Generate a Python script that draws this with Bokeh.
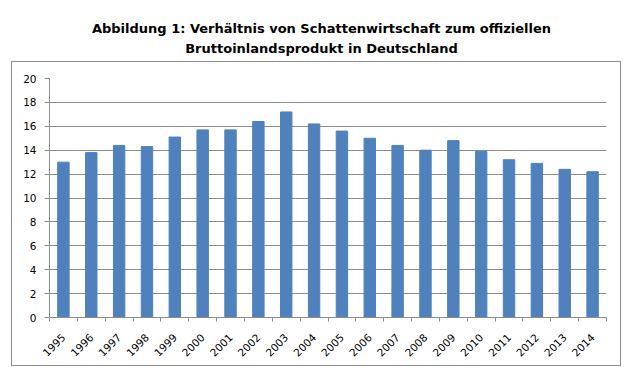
import math
from bokeh.plotting import figure
from bokeh.layouts import column
from bokeh.models import Range1d, FixedTicker
from bokeh.core.properties import value
from bokeh.embed import file_html
from bokeh.resources import INLINE

years = list(range(1995, 2015))
values = [13.0, 13.8, 14.4, 14.3, 15.1, 15.7, 15.7, 16.4, 17.2, 16.2,
          15.6, 15.0, 14.4, 14.0, 14.8, 13.9, 13.2, 12.9, 12.4, 12.2]
y_ticks = [0, 2, 4, 6, 8, 10, 12, 14, 16, 18, 20]
title_lines = ["Abbildung 1: Verhältnis von Schattenwirtschaft zum offiziellen",
               "Bruttoinlandsprodukt in Deutschland"]

GRID = "#8c8c8c"
BAR = "#4f81bd"
LEFT, RIGHT = 37, 16   # space between chart border and plot area
BOX_X, BOX_W = 11, 610

# ---- title strip (same horizontal geometry as the chart) ----
t = figure(width=BOX_W, height=61, output_backend="svg", toolbar_location=None,
           x_range=Range1d(BOX_X + LEFT, BOX_X + BOX_W - RIGHT), y_range=Range1d(61, 0),
           min_border_left=LEFT, min_border_right=RIGHT, min_border_top=0,
           min_border_bottom=0, margin=(0, 0, 0, BOX_X),
           x_axis_type=None, y_axis_type=None)
t.outline_line_color = None
t.xgrid.grid_line_color = None
t.ygrid.grid_line_color = None
t.text(x=[321, 321], y=[28, 48], text=title_lines,
       text_align="center", text_baseline="alphabetic",
       text_font=value("DejaVu Sans"), text_font_style="bold",
       text_font_size="13px", text_color="#000000")

# ---- chart ----
p = figure(width=BOX_W, height=305, output_backend="svg", toolbar_location=None,
           x_range=Range1d(years[0] - 0.5, years[-1] + 0.5),
           y_range=Range1d(y_ticks[0], y_ticks[-1]),
           min_border_left=LEFT, min_border_right=RIGHT,
           min_border_top=16, min_border_bottom=50,
           margin=(0, 0, 0, BOX_X),
           styles={"border": "1px solid #8c8c8c", "box-sizing": "border-box"})
p.outline_line_color = None

p.vbar(x=years, top=values, width=0.41, fill_color=BAR, line_color=BAR)

p.yaxis.ticker = FixedTicker(ticks=y_ticks, minor_ticks=[])
p.yaxis.axis_line_color = GRID
p.yaxis.major_tick_line_color = GRID
p.yaxis.major_tick_in = 0
p.yaxis.major_tick_out = 5
p.yaxis.minor_tick_line_color = None
p.yaxis.major_label_standoff = 8
p.yaxis.major_label_text_font = "DejaVu Sans"
p.yaxis.major_label_text_font_size = "10.5px"
p.yaxis.major_label_text_color = "#000000"

p.xaxis.ticker = FixedTicker(ticks=years,
                             minor_ticks=[y - 0.5 for y in years] + [years[-1] + 0.5])
p.xaxis.axis_line_color = GRID
p.xaxis.major_tick_line_color = None
p.xaxis.minor_tick_line_color = GRID
p.xaxis.minor_tick_in = 0
p.xaxis.minor_tick_out = 4
p.xaxis.major_tick_in = 0
p.xaxis.major_tick_out = 0
p.xaxis.major_label_orientation = math.pi / 4
p.xaxis.major_label_standoff = 14
p.xaxis.major_label_text_font = "DejaVu Sans"
p.xaxis.major_label_text_font_size = "10.5px"
p.xaxis.major_label_text_color = "#000000"

p.xgrid.grid_line_color = None
p.ygrid.grid_line_color = GRID

layout = column(t, p, spacing=0)
open("out.html", "w").write(file_html(layout, INLINE))
